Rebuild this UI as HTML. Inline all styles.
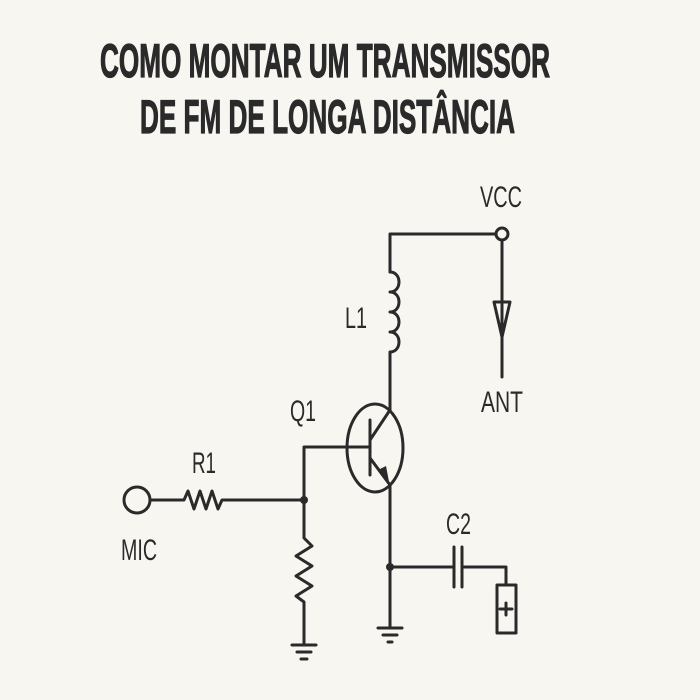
<!DOCTYPE html>
<html><head><style>
html,body{margin:0;padding:0;background:#f8f6f1;}
svg{display:block;}
text{font-family:"Liberation Sans",sans-serif;fill:#2a2a2a;}
</style></head><body>
<svg width="700" height="700" viewBox="0 0 700 700" xmlns="http://www.w3.org/2000/svg">
<rect width="700" height="700" fill="#f8f6f1"/>
<g stroke="#2a2a2a" stroke-width="1.2">
<text x="100" y="77" font-size="47" font-weight="bold" textLength="450" lengthAdjust="spacingAndGlyphs">COMO MONTAR UM TRANSMISSOR</text>
<text x="140" y="133" font-size="47" font-weight="bold" textLength="375" lengthAdjust="spacingAndGlyphs">DE FM DE LONGA DISTÂNCIA</text>
</g>
<g stroke="#2a2a2a" stroke-width="3" fill="none" stroke-linecap="round" stroke-linejoin="round">
<polyline points="390,272 390,234 496,234"/>
<circle cx="502" cy="234" r="6"/>
<line x1="502" y1="240" x2="502" y2="377"/>
<polygon points="494,302 510,302 502,337"/>
<path d="M390,272 c12,0 12,20 0,20 c12,0 12,20 0,20 c12,0 12,20 0,20 c12,0 12,20 0,20 M390,352 v58"/>
<ellipse cx="375" cy="448" rx="28" ry="44"/>
<line x1="370" y1="420" x2="370" y2="475"/>
<polyline points="304,500 304,447 370,447"/>
<line x1="370" y1="440" x2="390" y2="410"/>
<line x1="370" y1="458" x2="390" y2="485"/>
<line x1="390" y1="485" x2="390" y2="628"/>
<line x1="378" y1="628" x2="402" y2="628"/>
<line x1="383" y1="635" x2="397" y2="635"/>
<line x1="388" y1="642" x2="392" y2="642"/>
<circle cx="137" cy="500" r="13"/>
<polyline points="150,500 184,500 188,491 194,509 200,491 206,509 212,491 218,509 222,500 304,500"/>
<polyline points="304,500 304,538 312,546 296,556 312,566 296,576 312,586 296,596 304,602 304,645"/>
<line x1="292" y1="645" x2="316" y2="645"/>
<line x1="297" y1="652" x2="311" y2="652"/>
<line x1="301" y1="659" x2="307" y2="659"/>
<line x1="390" y1="567" x2="454" y2="567"/>
<line x1="454" y1="547" x2="454" y2="587"/>
<line x1="462" y1="547" x2="462" y2="587"/>
<polyline points="462,567 506,567 506,585"/>
<rect x="497" y="585" width="19" height="48"/>
<line x1="506" y1="603" x2="506" y2="615"/>
<line x1="500" y1="609" x2="512" y2="609"/>
</g>
<polygon points="390,487 378,470 386,466" fill="#2a2a2a"/>
<circle cx="304" cy="500" r="4" fill="#2a2a2a"/>
<circle cx="390" cy="567" r="4" fill="#2a2a2a"/>
<g font-size="30">
<text x="480" y="207" textLength="42" lengthAdjust="spacingAndGlyphs">VCC</text>
<text x="345" y="328" textLength="22" lengthAdjust="spacingAndGlyphs">L1</text>
<text x="481" y="412" textLength="42" lengthAdjust="spacingAndGlyphs">ANT</text>
<text x="290" y="421" textLength="26" lengthAdjust="spacingAndGlyphs">Q1</text>
<text x="192" y="473" textLength="24" lengthAdjust="spacingAndGlyphs">R1</text>
<text x="121" y="560" textLength="36" lengthAdjust="spacingAndGlyphs">MIC</text>
<text x="446" y="534" textLength="25" lengthAdjust="spacingAndGlyphs">C2</text>
</g>
</svg>
</body></html>
